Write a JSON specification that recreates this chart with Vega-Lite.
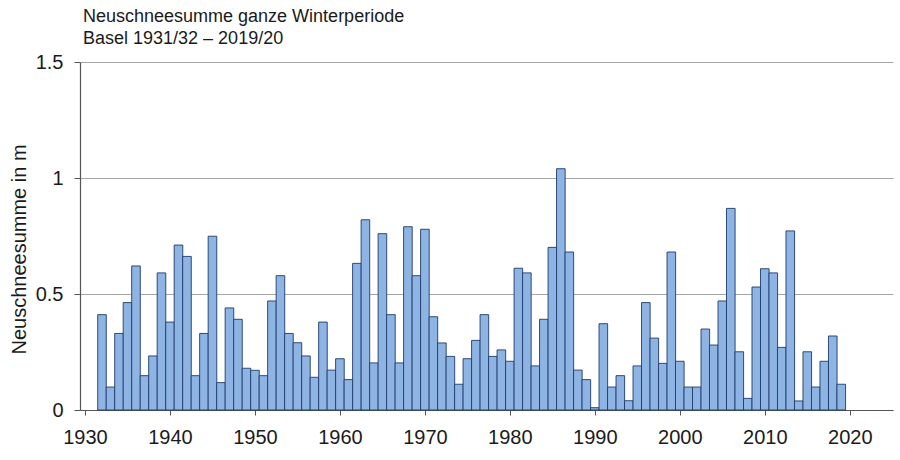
{
  "$schema": "https://vega.github.io/schema/vega-lite/v6.json",
  "width": 813,
  "height": 348,
  "autosize": {"type": "none"},
  "padding": {"left": 80, "top": 62, "right": 7, "bottom": 50},
  "background": "white",
  "title": {
    "text": ["Neuschneesumme ganze Winterperiode", "Basel 1931/32 – 2019/20"],
    "anchor": "start",
    "frame": "group",
    "font": "Liberation Sans",
    "fontSize": 18,
    "fontWeight": "normal",
    "color": "#1a1a1a",
    "lineHeight": 22,
    "offset": 4,
    "dx": 3
  },
  "config": {
    "view": {"stroke": null},
    "font": "Liberation Sans"
  },
  "data": {
    "values": [
      {"year": 1932, "snow": 0.411}, {"year": 1933, "snow": 0.099}, {"year": 1934, "snow": 0.330},
      {"year": 1935, "snow": 0.463}, {"year": 1936, "snow": 0.621}, {"year": 1937, "snow": 0.148},
      {"year": 1938, "snow": 0.233}, {"year": 1939, "snow": 0.591}, {"year": 1940, "snow": 0.379},
      {"year": 1941, "snow": 0.711}, {"year": 1942, "snow": 0.662}, {"year": 1943, "snow": 0.148},
      {"year": 1944, "snow": 0.330}, {"year": 1945, "snow": 0.749}, {"year": 1946, "snow": 0.118},
      {"year": 1947, "snow": 0.440}, {"year": 1948, "snow": 0.391}, {"year": 1949, "snow": 0.180},
      {"year": 1950, "snow": 0.171}, {"year": 1951, "snow": 0.148}, {"year": 1952, "snow": 0.470},
      {"year": 1953, "snow": 0.579}, {"year": 1954, "snow": 0.330}, {"year": 1955, "snow": 0.290},
      {"year": 1956, "snow": 0.233}, {"year": 1957, "snow": 0.141}, {"year": 1958, "snow": 0.379},
      {"year": 1959, "snow": 0.172}, {"year": 1960, "snow": 0.221}, {"year": 1961, "snow": 0.131},
      {"year": 1962, "snow": 0.632}, {"year": 1963, "snow": 0.820}, {"year": 1964, "snow": 0.203},
      {"year": 1965, "snow": 0.760}, {"year": 1966, "snow": 0.411}, {"year": 1967, "snow": 0.203},
      {"year": 1968, "snow": 0.790}, {"year": 1969, "snow": 0.579}, {"year": 1970, "snow": 0.779},
      {"year": 1971, "snow": 0.402}, {"year": 1972, "snow": 0.289}, {"year": 1973, "snow": 0.231},
      {"year": 1974, "snow": 0.111}, {"year": 1975, "snow": 0.221}, {"year": 1976, "snow": 0.300},
      {"year": 1977, "snow": 0.411}, {"year": 1978, "snow": 0.231}, {"year": 1979, "snow": 0.259},
      {"year": 1980, "snow": 0.210}, {"year": 1981, "snow": 0.611}, {"year": 1982, "snow": 0.591},
      {"year": 1983, "snow": 0.190}, {"year": 1984, "snow": 0.391}, {"year": 1985, "snow": 0.701},
      {"year": 1986, "snow": 1.040}, {"year": 1987, "snow": 0.681}, {"year": 1988, "snow": 0.172},
      {"year": 1989, "snow": 0.131}, {"year": 1990, "snow": 0.010}, {"year": 1991, "snow": 0.372},
      {"year": 1992, "snow": 0.099}, {"year": 1993, "snow": 0.148}, {"year": 1994, "snow": 0.040},
      {"year": 1995, "snow": 0.190}, {"year": 1996, "snow": 0.463}, {"year": 1997, "snow": 0.310},
      {"year": 1998, "snow": 0.201}, {"year": 1999, "snow": 0.681}, {"year": 2000, "snow": 0.210},
      {"year": 2001, "snow": 0.099}, {"year": 2002, "snow": 0.099}, {"year": 2003, "snow": 0.349},
      {"year": 2004, "snow": 0.280}, {"year": 2005, "snow": 0.470}, {"year": 2006, "snow": 0.869},
      {"year": 2007, "snow": 0.251}, {"year": 2008, "snow": 0.050}, {"year": 2009, "snow": 0.530},
      {"year": 2010, "snow": 0.609}, {"year": 2011, "snow": 0.591}, {"year": 2012, "snow": 0.270},
      {"year": 2013, "snow": 0.772}, {"year": 2014, "snow": 0.039}, {"year": 2015, "snow": 0.251},
      {"year": 2016, "snow": 0.099}, {"year": 2017, "snow": 0.210}, {"year": 2018, "snow": 0.319},
      {"year": 2019, "snow": 0.111}
    ]
  },
  "mark": {
    "type": "bar",
    "width": 8.6,
    "fill": "#8DB4E3",
    "stroke": "#1F3A6B",
    "strokeWidth": 0.9
  },
  "encoding": {
    "x": {
      "field": "year",
      "type": "quantitative",
      "scale": {"domain": [1930, 2024.5], "nice": false, "zero": false},
      "axis": {
        "title": null,
        "values": [1930, 1940, 1950, 1960, 1970, 1980, 1990, 2000, 2010, 2020],
        "format": "d",
        "grid": false,
        "domainColor": "#555555",
        "domainWidth": 1.2,
        "tickColor": "#555555",
        "tickSize": 5,
        "labelFontSize": 20,
        "labelColor": "#1a1a1a",
        "labelPadding": 12,
        "labelFlush": false
      }
    },
    "y": {
      "field": "snow",
      "type": "quantitative",
      "scale": {"domain": [0, 1.5], "nice": false},
      "axis": {
        "title": "Neuschneesumme in m",
        "titleFontSize": 20,
        "titleFontWeight": "normal",
        "titleColor": "#1a1a1a",
        "titlePadding": 6,
        "titleY": 187,
        "values": [0, 0.5, 1, 1.5],
        "format": "~g",
        "grid": true,
        "gridColor": "#A6A6A6",
        "gridWidth": 1.2,
        "domainColor": "#555555",
        "domainWidth": 1.2,
        "tickColor": "#555555",
        "tickSize": 6,
        "labelFontSize": 20,
        "labelColor": "#1a1a1a",
        "labelPadding": 11
      }
    }
  }
}
